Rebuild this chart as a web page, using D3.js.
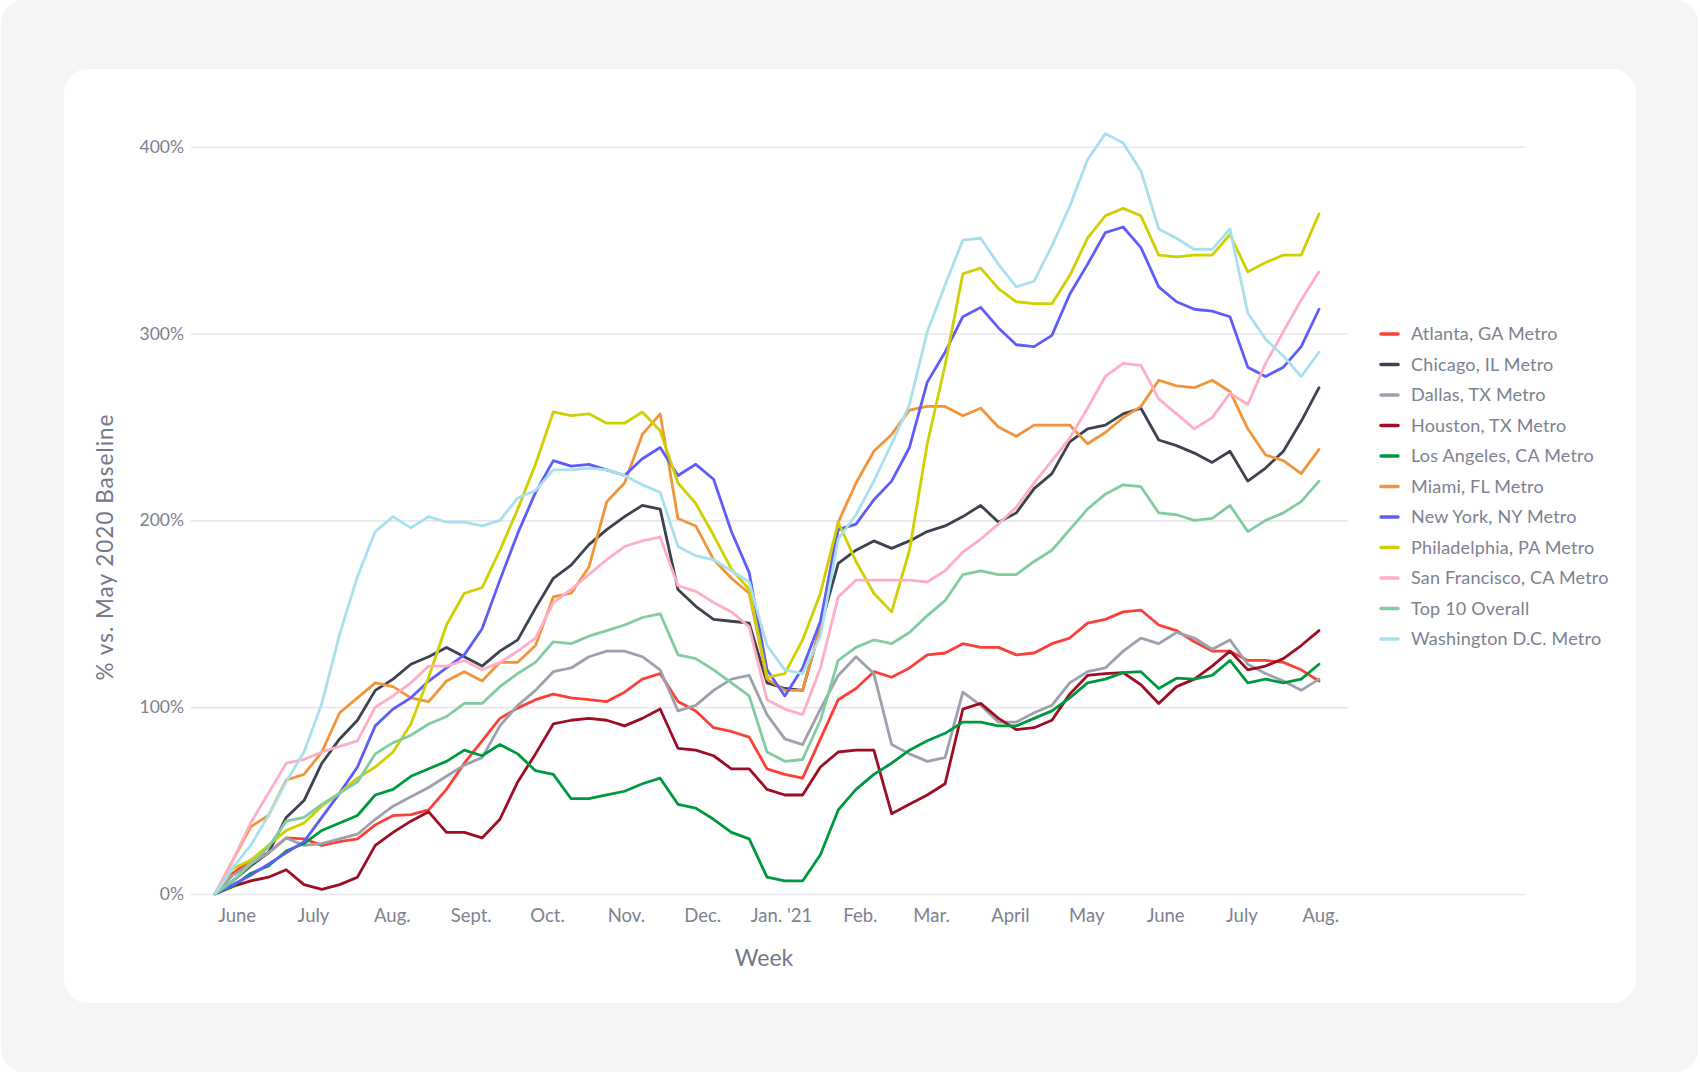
<!DOCTYPE html>
<html>
<head>
<meta charset="utf-8">
<script src="https://cdn.jsdelivr.net/npm/d3@7"></script>
<style>
  body { margin: 0; background: #ffffff; }
  svg { display: block; font-family: Lato, "Noto Sans", sans-serif; }
</style>
</head>
<body>
<script>
// weekly values, % vs. May 2020 baseline, week of May 24 2020 .. Aug 1 2021
var atlanta = [0, 11, 18, 22, 30, 29.5, 26, 28, 29.5, 37, 42, 42.5, 45, 56, 70, 82, 94,
  99.5, 104, 107, 105, 104, 103, 108, 115, 118, 103, 98, 89, 87, 84, 67,
  64, 62, 83, 104, 110, 119, 116, 121, 128, 129, 134, 132, 132, 128, 129, 134,
  137, 145, 147, 151, 152, 144, 141, 135, 130, 130, 125, 125, 124, 120, 114]
var chicago = [0, 7, 15, 22, 41, 50, 70, 83, 93, 109, 115, 123, 127, 132, 127, 122, 130,
  136, 153, 169, 176, 187, 195, 202, 208, 206, 163, 154, 147, 146, 145, 113,
  110, 109, 143, 177, 184, 189, 185, 189, 194, 197, 202, 208, 199, 204, 217, 225,
  242, 249, 251, 257, 260, 243, 240, 236, 231, 237, 221, 228, 237, 253, 271]
var dallas = [0, 10, 16, 22, 30, 26, 27, 29.5, 32, 40, 47, 52, 57, 63, 69, 73, 90,
  101, 109, 119, 121, 127, 130, 130, 127, 120, 98, 101, 109, 115, 117, 96,
  83, 80, 99, 117, 127, 118, 80, 75, 71, 73, 108, 101, 92, 92, 97, 101,
  113, 119, 121, 130, 137, 134, 140, 137, 131, 136, 123, 118, 114, 109, 115]
var houston = [0, 4, 7, 9, 13, 5, 2.5, 5, 9, 26, 33, 39, 44, 33, 33, 30, 40,
  60, 75, 91, 93, 94, 93, 90, 94, 99, 78, 77, 74, 67, 67, 56,
  53, 53, 68, 76, 77, 77, 43, 48, 53, 59, 99, 102, 94, 88, 89, 93,
  107, 117, 118, 118.5, 112, 102, 111, 115, 122, 130, 120, 122, 126, 133, 141]
var losAngeles = [0, 4, 11, 15, 23, 27, 34, 38, 42, 53, 56, 63, 67, 71, 77, 74, 80,
  75, 66, 64, 51, 51, 53, 55, 59, 62, 48, 46, 40, 33, 29.5, 9,
  7, 7, 21, 45, 56, 64, 70, 77, 82, 86, 92, 92, 90, 90, 94, 98,
  105, 113, 115, 118.5, 119, 110, 115.5, 115, 117, 125, 113, 115, 113, 115, 123]
var miami = [0, 18, 36, 42, 61, 64, 76, 97, 105, 113, 111, 105, 103, 114, 119, 114, 124,
  124, 133, 159, 161, 175, 210, 220, 246, 257, 201, 197, 179, 169, 161, 115,
  109, 109, 143, 199, 220, 237, 246, 259, 261, 261, 256, 260, 250, 245, 251, 251,
  251, 241, 247, 255, 261, 275, 272, 271, 275, 269, 249, 235, 232, 225, 238]
var newYork = [0, 5, 10, 16, 22, 28, 41, 54, 68, 90, 99, 105, 114, 121, 128, 142, 168,
  193, 215, 232, 229, 230, 227, 224, 233, 239, 224, 230, 222, 194, 172, 120,
  106, 121, 146, 195, 198, 211, 221, 239, 274, 290, 309, 314, 303, 294, 293, 299,
  321, 337, 354, 357, 346, 325, 317, 313, 312, 309, 282, 277, 282, 293, 313]
var philadelphia = [0, 13.5, 18, 26, 34, 38, 47, 54, 62, 68, 76, 91, 116, 144, 161, 164, 184,
  206, 230, 258, 256, 257, 252, 252, 258, 248, 220, 209, 192, 174, 163, 116,
  118, 136, 161, 199, 178, 161, 151, 184, 241, 283, 332, 335, 324, 317, 316, 316,
  331, 351, 363, 367, 363, 342, 341, 342, 342, 353, 333, 338, 342, 342, 364]
var sanFrancisco = [0, 18, 38, 54, 70, 72, 76, 79, 82, 100, 106, 113, 122, 122, 125, 120, 124,
  130, 137, 156, 163, 171, 179, 186, 189, 191, 165, 162, 156, 151, 143, 104,
  99, 96, 121, 159, 168, 168, 168, 168, 167, 173, 183, 190, 198, 207, 220, 232,
  244, 260, 277, 284, 283, 265, 257, 249, 255, 268, 262, 284, 301, 318, 333]
var top10 = [0, 7, 16, 25, 39, 41, 48, 54, 60, 75, 81, 85, 91, 95, 102, 102, 111,
  118, 124, 135, 134, 138, 141, 144, 148, 150, 128, 126, 120, 113, 106, 76,
  71, 72, 93, 125, 132, 136, 134, 140, 149, 157, 171, 173, 171, 171, 178, 184,
  195, 206, 214, 219, 218, 204, 203, 200, 201, 208, 194, 200, 204, 210, 221]
var washington = [0, 14, 26, 42, 60, 76, 102, 139, 170, 194, 202, 196, 202, 199, 199, 197, 200,
  212, 216, 227, 227, 228, 227, 224, 219, 215, 186, 181, 179, 173, 167, 133,
  120, 118, 138, 190, 203, 221, 241, 262, 301, 326, 350, 351, 337, 325, 328, 347,
  368, 393, 407, 402, 387, 356, 351, 345, 345, 356, 311, 297, 288, 277, 290]

var seriesNames = ["Atlanta, GA Metro", "Chicago, IL Metro", "Dallas, TX Metro", "Houston, TX Metro",
  "Los Angeles, CA Metro", "Miami, FL Metro", "New York, NY Metro", "Philadelphia, PA Metro",
  "San Francisco, CA Metro", "Top 10 Overall", "Washington D.C. Metro"]
var seriesValues = [atlanta, chicago, dallas, houston, losAngeles, miami, newYork,
  philadelphia, sanFrancisco, top10, washington]
var seriesColors = ["#fb4137", "#3c424f", "#9da1ae", "#9c0e24", "#00983f", "#f2953a",
  "#5d5dfb", "#d0d000", "#ffaec4", "#81cca0", "#a8e0ee"]

var monthLabels = ["June", "July", "Aug.", "Sept.", "Oct.", "Nov.", "Dec.", "Jan. '21",
  "Feb.", "Mar.", "April", "May", "June", "July", "Aug."]
var yTicks = [0, 100, 200, 300, 400]

var firstWeek = new Date(2020, 4, 24)
var weeks = seriesValues[0].map(function(d, i) { return d3.timeDay.offset(firstWeek, i * 7) })
var monthStarts = d3.timeMonth.range(new Date(2020, 5, 1), new Date(2021, 7, 2))

var width = 1700, height = 1075
var textColor = "#7d8190"

var svg = d3.select("body")
  .append("svg")
  .attr("width", width)
  .attr("height", height)

// page + card
svg.append("rect")
  .attr("x", 1).attr("y", 0)
  .attr("width", 1697).attr("height", 1072)
  .attr("rx", 22)
  .attr("fill", "#f5f5f7")

svg.append("rect")
  .attr("x", 64).attr("y", 69)
  .attr("width", 1572).attr("height", 934)
  .attr("rx", 24)
  .attr("fill", "#ffffff")

var xScale = d3.scaleTime()
  .domain([weeks[0], weeks[weeks.length - 1]])
  .range([215, 1319])

var yScale = d3.scaleLinear()
  .domain([0, 400])
  .range([894, 146.7])

// gridlines + y labels
var yAxis = d3.axisLeft(yScale)
  .tickValues(yTicks)
  .tickSize(-(1525 - 191))
  .tickPadding(7)
  .tickFormat(function(d) { return d + "%" })

var yG = svg.append("g")
  .attr("transform", "translate(191,0)")
  .call(yAxis)
yG.select(".domain").remove()
yG.selectAll(".tick line")
  .attr("stroke", "#e7e7ec")
  .attr("stroke-width", 1.6)
yG.selectAll(".tick text")
  .attr("fill", textColor)
  .attr("font-size", 17.5)
  .attr("font-family", "Lato, sans-serif")

// month labels
var xAxis = d3.axisBottom(xScale)
  .tickValues(monthStarts)
  .tickSize(0)
  .tickPadding(9)
  .tickFormat(function(d, i) { return monthLabels[i] })

var xG = svg.append("g")
  .attr("transform", "translate(1.3,900)")
  .call(xAxis)
xG.select(".domain").remove()
xG.selectAll(".tick text")
  .attr("fill", textColor)
  .attr("font-size", 18.5)
  .attr("font-family", "Lato, sans-serif")

// axis titles
svg.append("text")
  .attr("x", 764)
  .attr("y", 966)
  .attr("text-anchor", "middle")
  .attr("fill", "#73788a")
  .attr("font-size", 23)
  .text("Week")

svg.append("text")
  .attr("transform", "translate(113,547) rotate(-90)")
  .attr("text-anchor", "middle")
  .attr("fill", "#73788a")
  .attr("font-size", 22.5)
  .attr("letter-spacing", 1)
  .text("% vs. May 2020 Baseline")

// lines
var line = d3.line()
  .x(function(d, i) { return xScale(weeks[i]) })
  .y(function(d) { return yScale(d) })

svg.append("g")
  .selectAll("path")
  .data(seriesValues)
  .enter()
  .append("path")
  .attr("d", line)
  .attr("fill", "none")
  .attr("stroke", function(d, i) { return seriesColors[i] })
  .attr("stroke-width", 2.8)
  .attr("stroke-linejoin", "round")
  .attr("stroke-linecap", "round")

// legend
var legend = svg.append("g")

legend.append("rect")
  .attr("x", 1348).attr("y", 312)
  .attr("width", 200).attr("height", 410)
  .attr("fill", "#ffffff")

var items = legend.selectAll(".item")
  .data(seriesNames)
  .enter()
  .append("g")
  .attr("class", "item")
  .attr("transform", function(d, i) { return "translate(0," + (334 + i * 30.5) + ")" })

items.append("line")
  .attr("x1", 1381).attr("x2", 1398)
  .attr("y1", 0).attr("y2", 0)
  .attr("stroke", function(d, i) { return seriesColors[i] })
  .attr("stroke-width", 3.5)
  .attr("stroke-linecap", "round")

items.append("text")
  .attr("x", 1411)
  .attr("y", 0)
  .attr("dy", "0.35em")
  .attr("fill", textColor)
  .attr("font-size", 18)
  .attr("letter-spacing", 0.2)
  .text(function(d) { return d })
</script>
</body>
</html>
